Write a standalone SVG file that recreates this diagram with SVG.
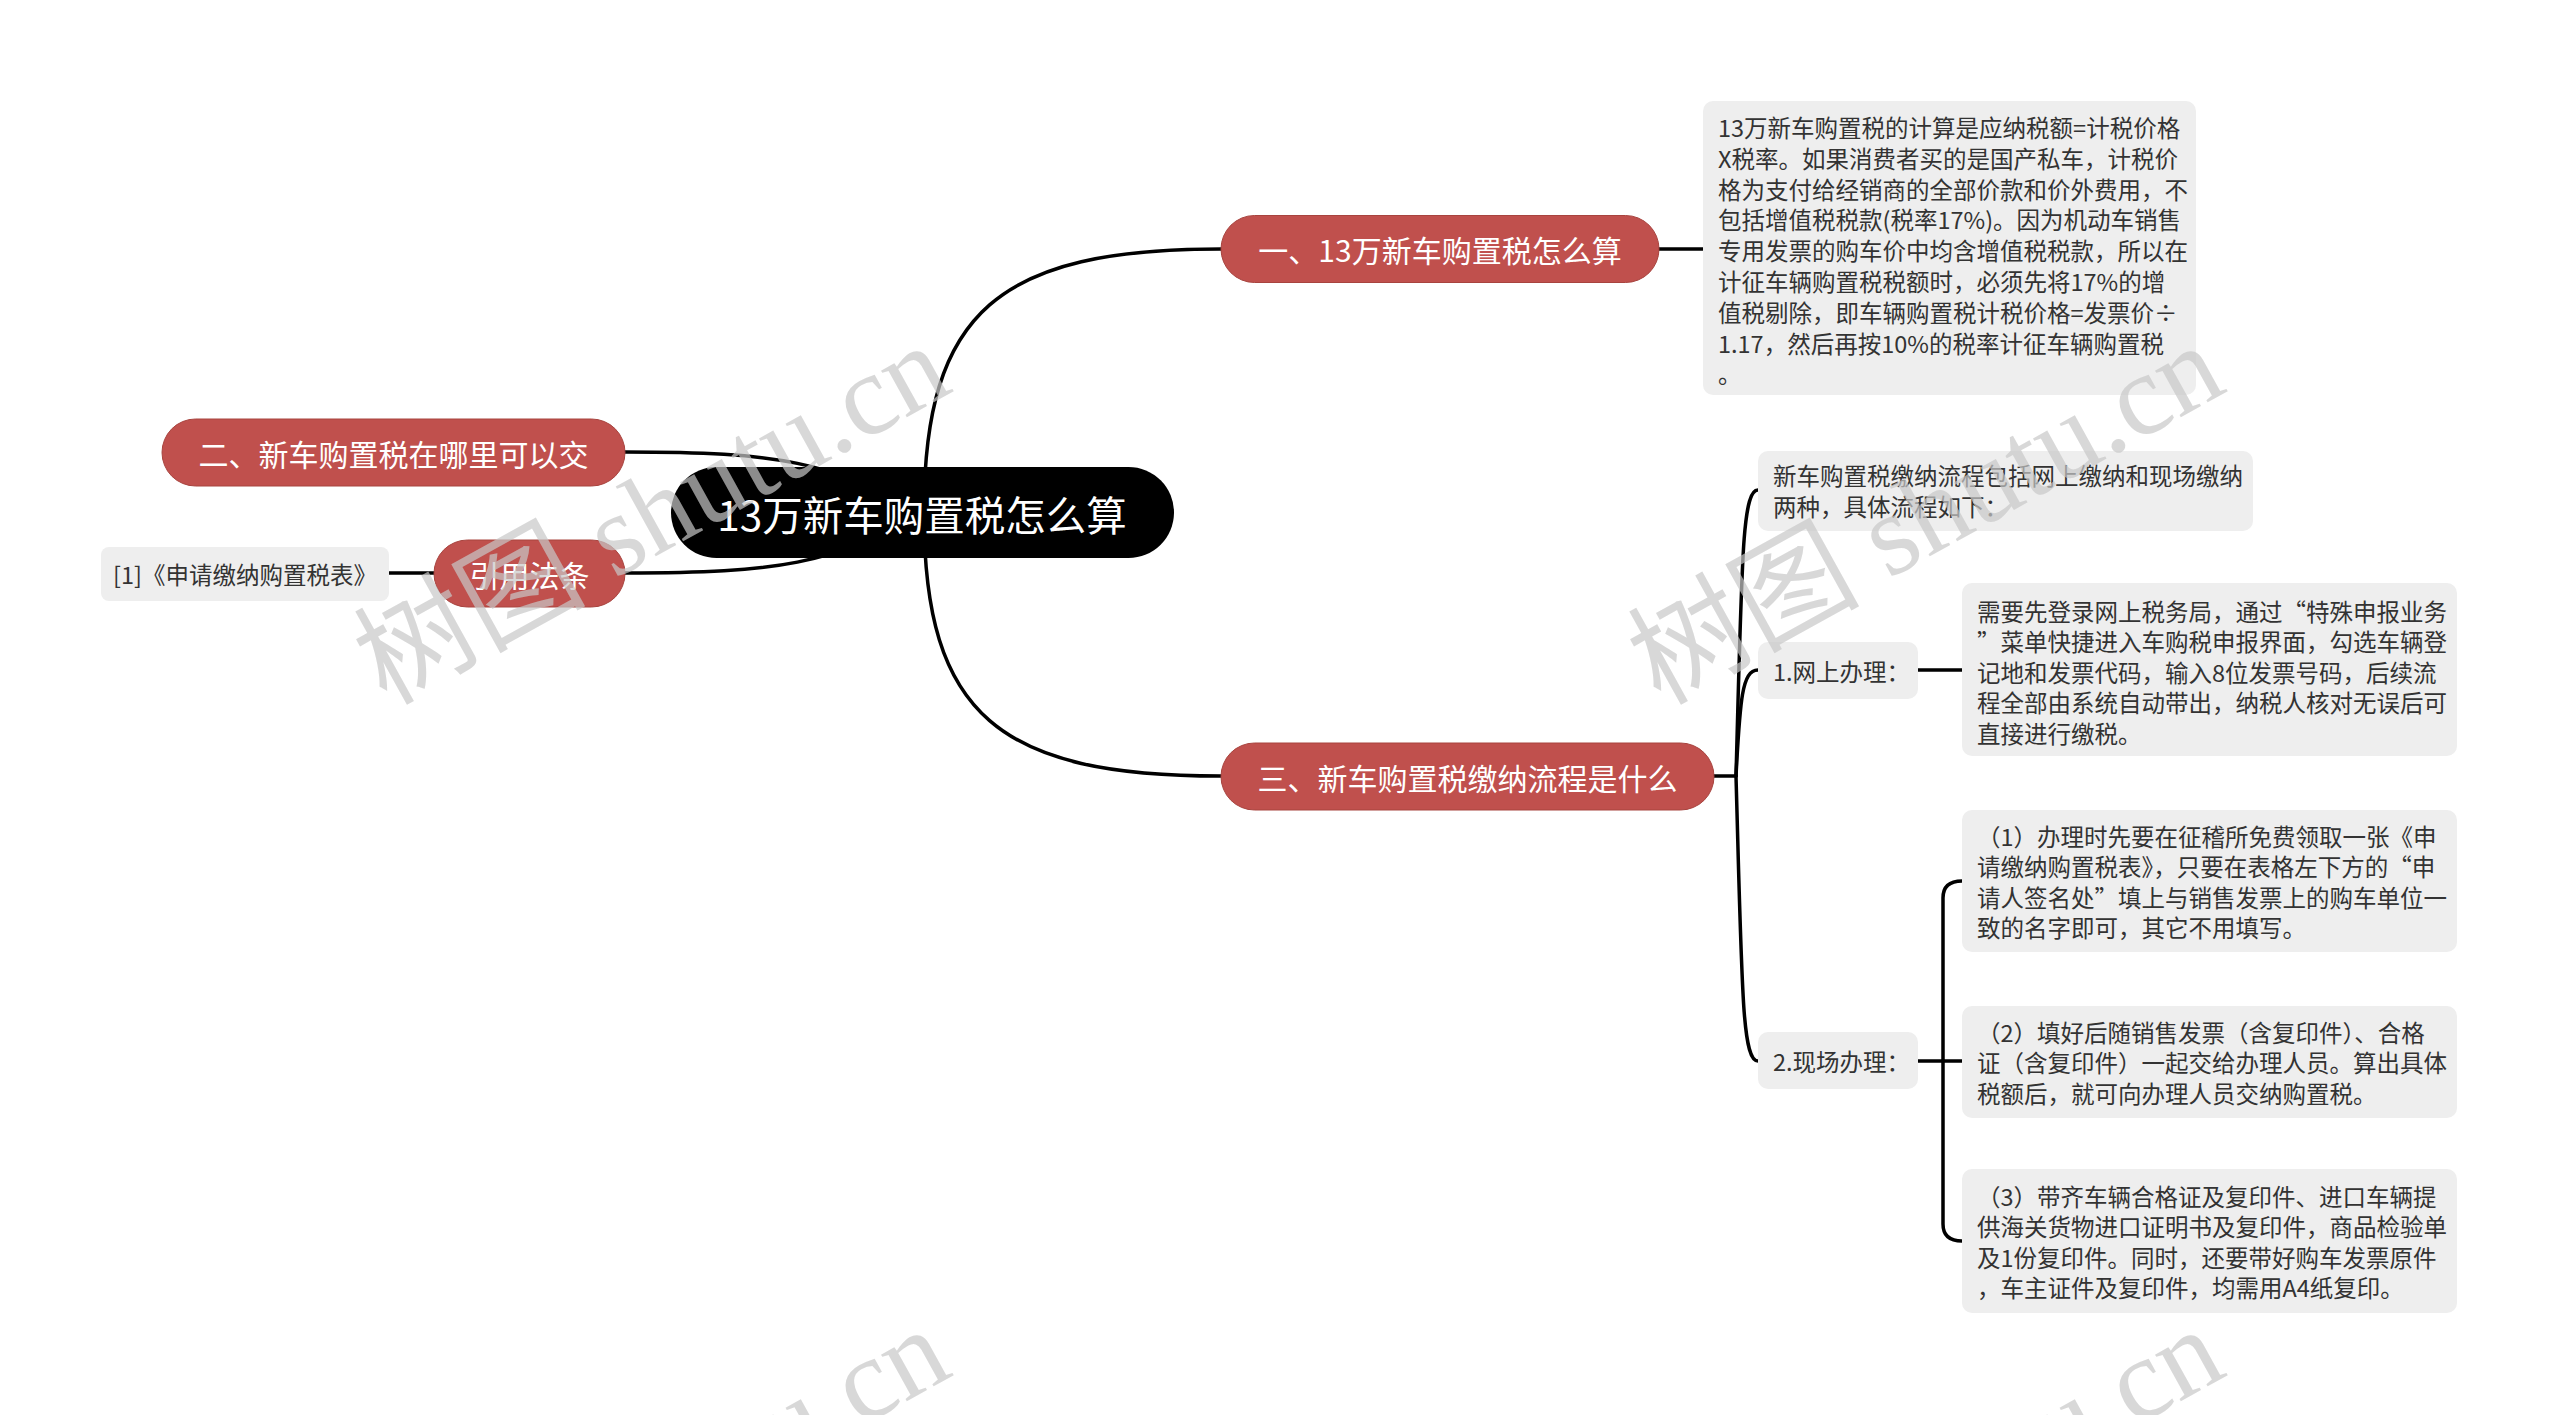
<svg xmlns="http://www.w3.org/2000/svg" width="2560" height="1415" viewBox="0 0 2560 1415">
<style>
  .conn { fill: none; stroke: #000; stroke-width: 3.5; stroke-linecap: round; }
  .root { fill: #000; }
  .main { fill: #c0504d; stroke: #a8443f; stroke-width: 1; }
  .box { fill: #eeeeee; }
  .t-root { font-family: "Noto Sans CJK SC", "Noto Sans", sans-serif; font-size: 40.5px; fill: #fff; text-anchor: middle; dominant-baseline: central; }
  .t-main { font-family: "Noto Sans CJK SC", "Noto Sans", sans-serif; font-size: 30px; fill: #fff; text-anchor: middle; dominant-baseline: central; }
  .t-box { font-family: "Noto Sans CJK SC", "Noto Sans", sans-serif; font-size: 23.5px; fill: #333; dominant-baseline: central; }
  .wm { font-family: "Liberation Serif", "Noto Sans CJK SC", serif; font-size: 116px; fill: #c8c8c8; fill-opacity: 0.7; }
</style>
<rect width="2560" height="1415" fill="#fff"/>

<g id="connectors">
  <path class="conn" d="M 924 513 C 924 310, 1000 249, 1221 249"/>
  <path class="conn" d="M 924 513 C 924 716, 1000 776, 1221 776"/>
  <path class="conn" d="M 924 513 C 830 462, 780 452, 625 452"/>
  <path class="conn" d="M 924 513 C 830 564, 780 573, 625 573"/>
  <path class="conn" d="M 434 573 H 389"/>
  <path class="conn" d="M 1659 249 H 1703"/>
  <path class="conn" d="M 1714 776 H 1736"/>
  <path class="conn" d="M 1736 776 C 1742 560, 1742 490, 1758 490"/>
  <path class="conn" d="M 1736 776 C 1740 700, 1742 670, 1758 670"/>
  <path class="conn" d="M 1736 776 C 1742 990, 1742 1061, 1758 1061"/>
  <path class="conn" d="M 1918 670 H 1962"/>
  <path class="conn" d="M 1918 1061 H 1962"/>
  <path class="conn" d="M 1943 1061 V 898 Q 1943 881 1962 881"/>
  <path class="conn" d="M 1943 1061 V 1224 Q 1943 1241 1962 1241"/>
</g>

<g id="root">
  <rect class="root" x="671" y="467" width="503" height="91" rx="45.5"/>
  <text class="t-root" x="922" y="513">13万新车购置税怎么算</text>
</g>

<g id="n1">
  <rect class="main" x="1221" y="215.5" width="438" height="67" rx="33.5"/>
  <text class="t-main" x="1440" y="249">一、13万新车购置税怎么算</text>
</g>

<g id="n2">
  <rect class="main" x="162" y="419" width="463" height="67" rx="33.5"/>
  <text class="t-main" x="393.5" y="452.5">二、新车购置税在哪里可以交</text>
</g>

<g id="n3">
  <rect class="main" x="1221" y="743" width="493" height="67" rx="33.5"/>
  <text class="t-main" x="1467.5" y="776.5">三、新车购置税缴纳流程是什么</text>
</g>

<g id="n-ref">
  <rect class="main" x="434" y="540" width="191" height="67" rx="33.5"/>
  <text class="t-main" x="529.5" y="573.5">引用法条</text>
</g>

<g id="leaf-ref">
  <rect class="box" x="101" y="547" width="288" height="54" rx="8"/>
  <text class="t-box" x="245" y="574" text-anchor="middle">[1]《申请缴纳购置税表》</text>
</g>

<g id="box-calc">
  <rect class="box" x="1703" y="101" width="493" height="294" rx="10"/>
  <text class="t-box" x="1718" y="127">13万新车购置税的计算是应纳税额=计税价格</text>
  <text class="t-box" x="1718" y="157.8">X税率。如果消费者买的是国产私车，计税价</text>
  <text class="t-box" x="1718" y="188.6">格为支付给经销商的全部价款和价外费用，不</text>
  <text class="t-box" x="1718" y="219.4">包括增值税税款(税率17%)。因为机动车销售</text>
  <text class="t-box" x="1718" y="250.2">专用发票的购车价中均含增值税税款，所以在</text>
  <text class="t-box" x="1718" y="281">计征车辆购置税税额时，必须先将17%的增</text>
  <text class="t-box" x="1718" y="311.8">值税剔除，即车辆购置税计税价格=发票价÷</text>
  <text class="t-box" x="1718" y="342.6">1.17，然后再按10%的税率计征车辆购置税</text>
  <text class="t-box" x="1718" y="373.4">。</text>
</g>

<g id="box-intro">
  <rect class="box" x="1758" y="451" width="495" height="80" rx="10"/>
  <text class="t-box" x="1773" y="475">新车购置税缴纳流程包括网上缴纳和现场缴纳</text>
  <text class="t-box" x="1773" y="506">两种，具体流程如下：</text>
</g>

<g id="n-online">
  <rect class="box" x="1758" y="642" width="160" height="57" rx="10"/>
  <text class="t-box" x="1773" y="670.5">1.网上办理：</text>
</g>

<g id="box-online">
  <rect class="box" x="1962" y="583" width="495" height="173" rx="10"/>
  <text class="t-box" x="1977" y="610.5">需要先登录网上税务局，通过“特殊申报业务</text>
  <text class="t-box" x="1977" y="641">”菜单快捷进入车购税申报界面，勾选车辆登</text>
  <text class="t-box" x="1977" y="671.5">记地和发票代码，输入8位发票号码，后续流</text>
  <text class="t-box" x="1977" y="702">程全部由系统自动带出，纳税人核对无误后可</text>
  <text class="t-box" x="1977" y="732.5">直接进行缴税。</text>
</g>

<g id="n-onsite">
  <rect class="box" x="1758" y="1032" width="160" height="57" rx="10"/>
  <text class="t-box" x="1773" y="1061">2.现场办理：</text>
</g>

<g id="box-step1">
  <rect class="box" x="1962" y="810" width="495" height="142" rx="10"/>
  <text class="t-box" x="1977" y="835.5">（1）办理时先要在征稽所免费领取一张《申</text>
  <text class="t-box" x="1977" y="866">请缴纳购置税表》，只要在表格左下方的“申</text>
  <text class="t-box" x="1977" y="896.5">请人签名处”填上与销售发票上的购车单位一</text>
  <text class="t-box" x="1977" y="927">致的名字即可，其它不用填写。</text>
</g>

<g id="box-step2">
  <rect class="box" x="1962" y="1006" width="495" height="112" rx="10"/>
  <text class="t-box" x="1977" y="1031.5">（2）填好后随销售发票（含复印件）、合格</text>
  <text class="t-box" x="1977" y="1062">证（含复印件）一起交给办理人员。算出具体</text>
  <text class="t-box" x="1977" y="1092.5">税额后，就可向办理人员交纳购置税。</text>
</g>

<g id="box-step3">
  <rect class="box" x="1962" y="1169" width="495" height="144" rx="10"/>
  <text class="t-box" x="1977" y="1195.5">（3）带齐车辆合格证及复印件、进口车辆提</text>
  <text class="t-box" x="1977" y="1226">供海关货物进口证明书及复印件，商品检验单</text>
  <text class="t-box" x="1977" y="1256.5">及1份复印件。同时，还要带好购车发票原件</text>
  <text class="t-box" x="1977" y="1287">，车主证件及复印件，均需用A4纸复印。</text>
</g>

<g id="watermarks">
  <text class="wm" x="386" y="706" transform="rotate(-29 386 706)">树图 shutu.cn</text>
  <text class="wm" x="1660" y="706" transform="rotate(-29 1660 706)">树图 shutu.cn</text>
  <text class="wm" x="386" y="1690" transform="rotate(-29 386 1690)">树图 shutu.cn</text>
  <text class="wm" x="1660" y="1690" transform="rotate(-29 1660 1690)">树图 shutu.cn</text>
</g>
</svg>
